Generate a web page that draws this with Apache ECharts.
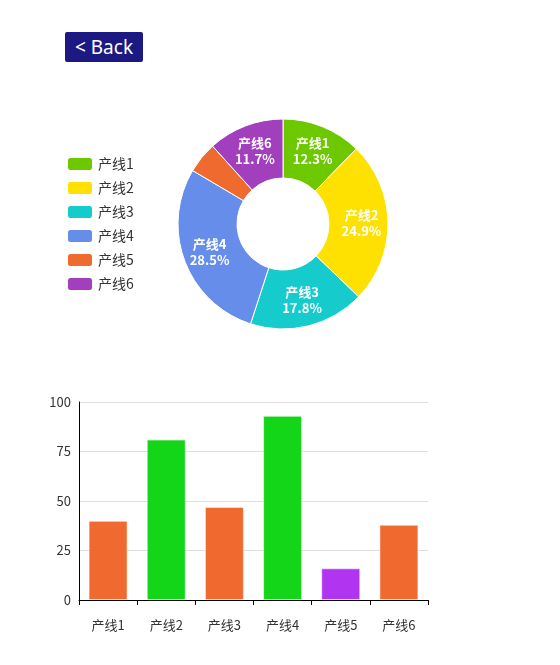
<!DOCTYPE html>
<html><head><meta charset="utf-8">
<script src="https://cdn.jsdelivr.net/npm/echarts@6/dist/echarts.min.js"></script>
<style>
html,body{margin:0;padding:0;background:#fff;}
#chart{width:560px;height:665px;position:absolute;left:0;top:0;}
#back{position:absolute;left:65px;top:32px;width:78px;height:30px;background:#1c1a82;color:#fff;border-radius:2px;
font-family:"Noto Sans","Noto Sans CJK SC",sans-serif;font-size:19px;line-height:30px;text-align:center;z-index:2;}
</style></head>
<body>
<div id="chart"></div>
<div id="back">&lt; Back</div>
<script>
const pieNames = ['产线1','产线2','产线3','产线4','产线5','产线6'];
const pieValues = [12.3, 24.9, 17.8, 28.5, 4.8, 11.7];
const pieColors = ['#6ec800','#fee100','#16cbcb','#668dea','#ef6a2f','#a23fbd'];
const barCategories = ['产线1','产线2','产线3','产线4','产线5','产线6'];
const barValues = [40, 81, 47, 93, 16, 38];
const barColors = ['#f06a2f','#14d618','#f06a2f','#14d618','#b034f0','#f06a2f'];
const yTicks = [0, 25, 50, 75, 100];

const font = '"Noto Sans CJK SC","Microsoft YaHei",sans-serif';
const chart = echarts.init(document.getElementById('chart'), null, {renderer:'canvas'});
chart.setOption({
  animation:false,
  textStyle:{fontFamily:font},
  legend:{
    orient:'vertical', left:61, top:151, itemWidth:26, itemHeight:14, itemGap:8,
    icon:'roundRect',
    textStyle:{fontSize:14,color:'#333',fontFamily:font},
    data:pieNames
  },
  grid:{left:79, top:402, width:349, height:198},
  xAxis:{
    type:'category', data:barCategories,
    axisLine:{lineStyle:{color:'#000'}},
    axisTick:{show:true,length:5,lineStyle:{color:'#000'}},
    axisLabel:{color:'#333',fontSize:13,margin:19,fontFamily:font}
  },
  yAxis:{
    type:'value', min:yTicks[0], max:yTicks[yTicks.length-1], interval:25,
    axisLine:{show:true,lineStyle:{color:'#000'}},
    axisTick:{show:false},
    axisLabel:{color:'#333',fontSize:13,fontFamily:font},
    splitLine:{lineStyle:{color:'#ddd'}}
  },
  series:[
    {
      type:'pie', center:[283,224], radius:[46,105], startAngle:90,
      itemStyle:{borderColor:'#fff',borderWidth:1},
      label:{show:true, position:'inner', color:'#fff', fontWeight:'bold', fontSize:13,
        fontFamily:font, lineHeight:16,
        formatter:p=>p.name+'\n'+p.value.toFixed(1)+'%'},
      labelLine:{show:false},
      data:pieNames.map((n,i)=>({name:n,value:pieValues[i],itemStyle:{color:pieColors[i]},
        label:i===4?{show:false}:undefined}))
    },
    {
      type:'bar', barWidth:'67%',
      data:barValues.map((v,i)=>({value:v,itemStyle:{color:barColors[i],borderColor:'rgba(255,255,255,0.5)',borderWidth:1}}))
    }
  ]
});
</script>
</body></html>
